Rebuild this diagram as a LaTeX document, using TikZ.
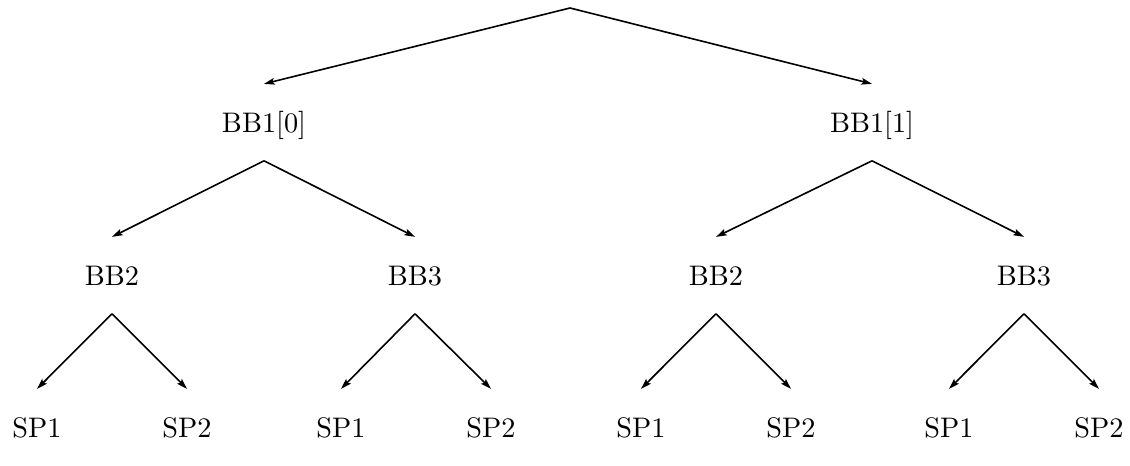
\documentclass[tikz,border=0pt]{standalone}
\usepackage{graphicx}
\usetikzlibrary{arrows.meta}

\newcommand{\blktxt}[1]{\scalebox{2.12}{#1}}
\tikzset{every picture/.style={line width=1.2pt}}
\tikzset{
  blk/.style={anchor=base, inner xsep=0pt, inner ysep=21pt, text height=14.5pt, text depth=0pt, font=\fontsize{10}{12}\selectfont},
  brn/.style={-{Stealth[length=8pt,width=5pt,inset=1.5pt]}}
}

\begin{document}
\begin{tikzpicture}[x=0.75pt,y=0.75pt,yscale=-1,xscale=1]
\path (0,0) rectangle (1130,442); %set diagram left start at 0, and has height of 442

% Text Node
\coordinate (top) at (570,8);
\draw (264,132) node [blk] (bb0) {\blktxt{BB1[0]}};
\draw (872,132) node [blk] (bb1) {\blktxt{BB1[1]}};
% Text Node
\draw (112,285) node [blk] (bb0l) {\blktxt{BB2}};
\draw (415,285) node [blk] (bb0r) {\blktxt{BB3}};
\draw (716,285) node [blk] (bb1l) {\blktxt{BB2}};
\draw (1024,285) node [blk] (bb1r) {\blktxt{BB3}};
% Text Node
\draw (37,437) node [blk] (sp1) {\blktxt{SP1}};
\draw (187,437) node [blk] (sp2) {\blktxt{SP2}};
\draw (341,437) node [blk] (sp3) {\blktxt{SP1}};
\draw (491,437) node [blk] (sp4) {\blktxt{SP2}};
\draw (641,437) node [blk] (sp5) {\blktxt{SP1}};
\draw (791,437) node [blk] (sp6) {\blktxt{SP2}};
\draw (949,437) node [blk] (sp7) {\blktxt{SP1}};
\draw (1099,437) node [blk] (sp8) {\blktxt{SP2}};

%Straight Lines
\draw [brn] (top) -- (bb0.north);
\draw [brn] (top) -- (bb1.north);
\draw [brn] (bb0.south) -- (bb0l.north);
\draw [brn] (bb0.south) -- (bb0r.north);
\draw [brn] (bb1.south) -- (bb1l.north);
\draw [brn] (bb1.south) -- (bb1r.north);
%Straight Lines
\draw [brn] (bb0l.south) -- (sp1.north);
\draw [brn] (bb0l.south) -- (sp2.north);
\draw [brn] (bb0r.south) -- (sp3.north);
\draw [brn] (bb0r.south) -- (sp4.north);
\draw [brn] (bb1l.south) -- (sp5.north);
\draw [brn] (bb1l.south) -- (sp6.north);
\draw [brn] (bb1r.south) -- (sp7.north);
\draw [brn] (bb1r.south) -- (sp8.north);

\end{tikzpicture}
\end{document}
